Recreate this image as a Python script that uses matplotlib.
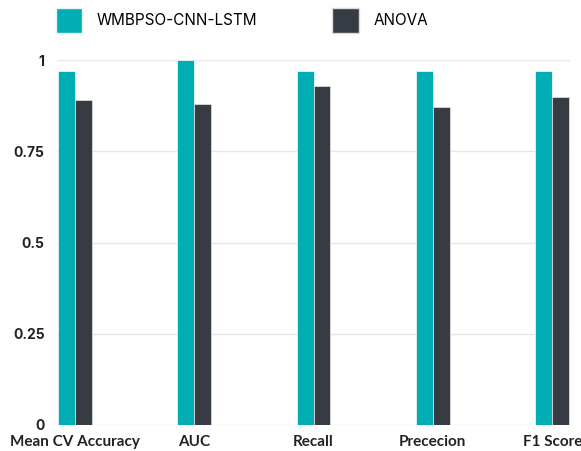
import numpy as np
import matplotlib.pyplot as plt
from matplotlib.patches import Patch

categories = ['Mean CV Accuracy', 'AUC', 'Recall', 'Prececion', 'F1 Score']
wmbpso = [0.97, 1.0, 0.97, 0.97, 0.97]
anova = [0.89, 0.88, 0.93, 0.87, 0.90]
yticks = [0, 0.25, 0.5, 0.75, 1]
ytick_labels = ['0', '0.25', '0.5', '0.75', '1']

teal = '#00adb3'
dark = '#373b44'

fig = plt.figure(figsize=(5.81, 4.51), dpi=100)
ax = fig.add_axes([57 / 581, 26 / 451, 513 / 581, 365 / 451])

x = np.arange(len(categories))
w = 0.142
ax.bar(x - w / 2, wmbpso, w, color=teal, edgecolor='#e8f4f4', linewidth=0.6, zorder=3)
ax.bar(x + w / 2, anova, w, color=dark, edgecolor='#d8dadc', linewidth=0.6, zorder=3)

ax.set_xlim(-0.148, 4.148)
ax.set_ylim(0, 1)
ax.set_yticks(yticks)
ax.set_yticklabels(ytick_labels, fontfamily='Inter', fontweight='bold', fontsize=10, color='#222222')
ax.set_xticks(x)
ax.set_xticklabels(categories, fontfamily='Lato', fontweight='bold', fontsize=11, color='#222222')
ax.tick_params(axis='both', length=0)
ax.tick_params(axis='y', pad=9)
ax.tick_params(axis='x', pad=7)
ax.grid(axis='y', color='#e6e6e6', linewidth=1, zorder=0)
for s in ax.spines.values():
    s.set_visible(False)

handles = [Patch(facecolor=teal, edgecolor='#e8f4f4'), Patch(facecolor=dark, edgecolor='#d8dadc')]
fig.legend(handles, ['WMBPSO-CNN-LSTM', 'ANOVA'], loc='upper left',
           bbox_to_anchor=(48 / 581, 1.0), ncol=2, frameon=False,
           prop={'family': 'Inter', 'weight': 'normal', 'size': 11},
           handlelength=1.75, handleheight=2.2, handletextpad=0.95,
           columnspacing=4.9, borderaxespad=0.1)

fig.savefig('out.png', dpi=100)
